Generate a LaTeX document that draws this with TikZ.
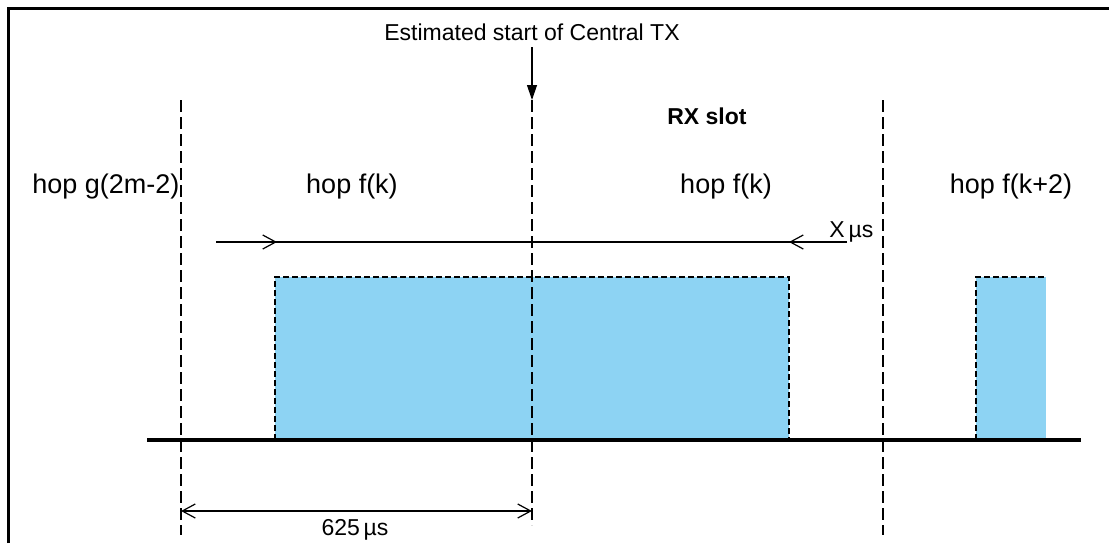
\documentclass[tikz,border=0pt]{standalone}
\usepackage{fontspec}
\setmainfont{Liberation Sans}
\usetikzlibrary{arrows.meta}
\definecolor{slotblue}{RGB}{141,211,243}

\begin{document}
\begin{tikzpicture}[x=0.5pt, y=-0.5pt,
  font=\fontsize{11.5}{14}\selectfont,
  grid/.style={line width=0.6pt, dash pattern=on 6pt off 2.5pt},
  edge/.style={line width=0.6pt, dash pattern=on 3pt off 1.5pt},
  barb/.style={line width=0.6pt, -{Straight Barb[length=6.5pt,width=7pt]}},
  dim/.style={line width=0.6pt, {Straight Barb[length=6.5pt,width=7pt]}-{Straight Barb[length=6.5pt,width=7pt]}},
  lbl/.style={anchor=base},
  hop/.style={anchor=base, font=\fontsize{13.5}{16}\selectfont}]
  \useasboundingbox (0,0) rectangle (1109,543);
  % frame, only top and left
  \draw[line width=1.5pt] (8.5,543) -- (8.5,8.5) -- (1109,8.5);
  % bursts
  \fill[slotblue] (275,277) rectangle (789,440);
  \draw[edge] (275,440) -- (275,277) -- (789,277) -- (789,440);
  \fill[slotblue] (976,277) rectangle (1046,440);
  \draw[edge] (976,440) -- (976,277) -- (1046,277);
  % slot boundaries
  \coordinate (T0) at (181,100);
  \coordinate (B0) at (181,535);
  \coordinate (T1) at (532,100);
  \coordinate (B1) at (532,525);
  \coordinate (T2) at (883,100);
  \coordinate (B2) at (883,535);
  \draw[grid] (T0) -- (B0);
  \draw[grid] (T1) -- (B1);
  \draw[grid] (T2) -- (B2);
  % time axis
  \coordinate (ax0) at (147,440);
  \coordinate (ax1) at (1081,440);
  \draw[line width=2pt] (ax0) -- (ax1);
  % estimated start
  \node[lbl] (est) at (532,40) {Estimated start of Central TX};
  \draw[line width=0.6pt, -{Triangle[length=7.5pt,width=5pt]}] (est) -- (T1);
  % labels
  \node[lbl, font=\fontsize{11.5}{14}\selectfont\bfseries] (rx) at (707,124) {RX slot};
  \node[hop] (hg) at (106,193) {hop g(2m-2)};
  \node[hop] (hf1) at (352,193) {hop f(k)};
  \node[hop] (hf2) at (726,193) {hop f(k)};
  \node[hop] (hf3) at (1011,193) {hop f(k+2)};
  % X us
  \coordinate (xa) at (216,242);
  \coordinate (xl) at (277,242);
  \coordinate (xr) at (789,242);
  \coordinate (xb) at (847,242);
  \draw[line width=0.6pt] (xa) -- (xb);
  \draw[barb] (xa) -- (xl);
  \draw[barb] (xb) -- (xr);
  \node[anchor=base west, inner sep=0pt] (xmu) at (829,237) {X\,µs};
  % 625 us
  \coordinate (d0) at (181,511);
  \coordinate (d1) at (532,511);
  \draw[dim] (d0) -- (d1);
  \node[lbl] (len) at (355,535) {625\,µs};
\end{tikzpicture}
\end{document}
